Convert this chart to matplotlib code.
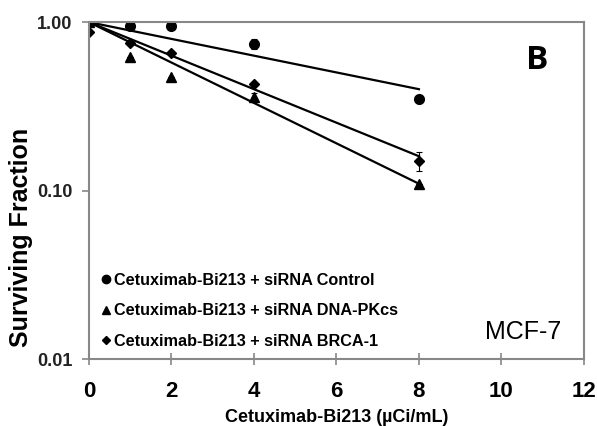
import numpy as np
import matplotlib
matplotlib.use("Agg")
import matplotlib.pyplot as plt

plt.rcParams['font.family'] = ['Liberation Sans', 'DejaVu Sans']

dose = [0, 1, 2, 4, 8]
ctrl = [1.00, 0.95, 0.95, 0.74, 0.35]
ctrl_err = [0.0, 0.0, 0.0, 0.05, 0.0]
dnapk = [1.00, 0.62, 0.47, 0.36, 0.11]
dnapk_err = [0.0, 0.0, 0.0, 0.02, 0.0]
brca = [0.88, 0.75, 0.66, 0.43, 0.15]
brca_err = [0.0, 0.0, 0.0, 0.0, 0.02]
labels = ["Cetuximab-Bi213 + siRNA Control",
          "Cetuximab-Bi213 + siRNA DNA-PKcs",
          "Cetuximab-Bi213 + siRNA BRCA-1"]
# fitted single-exponential coefficients (SF = exp(-a*D))
fit_a = [0.1145, 0.276, 0.229]

fig = plt.figure(figsize=(5.97, 4.26), dpi=100)
ax = fig.add_axes([0.149, 0.157, 0.829, 0.791])

series = [(ctrl, ctrl_err, 'o'), (dnapk, dnapk_err, '^'), (brca, brca_err, 'D')]
handles = []
xd = np.linspace(0, 8, 50)
for (vals, err, m), a, lab in zip(series, fit_a, labels):
    ax.plot(xd, np.exp(-a * xd), color='black', lw=1.6)
    ms = 7 if m != 'D' else 5.5
    ax.errorbar(dose, vals, yerr=err, fmt=m, color='black', ms=ms,
                capsize=2, elinewidth=0.8, capthick=0.8)
    lms = 6 if m != 'D' else 4.5
    h, = ax.plot([], [], m, color='black', ms=lms, label=lab)
    handles.append(h)

ax.set_yscale('log')
ax.set_ylim(0.01, 1.0)
ax.set_xlim(0, 12)
ax.set_yticks([0.01, 0.1, 1.0])
ax.set_yticklabels(['0.01', '0.10', '1.00'])
ax.yaxis.set_minor_locator(matplotlib.ticker.NullLocator())
ax.set_xticks([0, 2, 4, 6, 8, 10, 12])
for s in ax.spines.values():
    s.set_color('#888888')
    s.set_linewidth(1.5)
ax.tick_params(axis='x', direction='inout', length=8, width=1.2, color='#888888',
               labelsize=16, pad=12)
ax.tick_params(axis='y', direction='out', length=5, width=1.2, color='#888888',
               labelsize=13, pad=7)
for t in ax.get_xticklabels():
    t.set_fontweight('bold')
for t in ax.get_yticklabels():
    t.set_fontweight('bold')
    t.set_color('#222222')

ax.set_ylabel('Surviving Fraction', fontsize=18, fontweight='bold')
ax.yaxis.set_label_coords(-0.113, 0.36)
ax.set_xlabel('Cetuximab-Bi213 (µCi/mL)', fontsize=13, fontweight='bold', labelpad=5)

leg = ax.legend(handles=handles, loc='lower left', bbox_to_anchor=(0.0, -0.008),
                frameon=False, fontsize=11.7, handlelength=0.5, handletextpad=0.25,
                labelspacing=0.95, borderaxespad=0.6, borderpad=0.2)
for t in leg.get_texts():
    t.set_fontweight('bold')

ax.text(0.905, 0.887, 'B', transform=ax.transAxes, fontsize=24, fontweight='bold',
        family=['Open Sans', 'DejaVu Sans'], ha='center', va='center')
ax.text(0.877, 0.08, 'MCF-7', transform=ax.transAxes, fontsize=18,
        ha='center', va='center')

fig.savefig('out.png', dpi=100)
